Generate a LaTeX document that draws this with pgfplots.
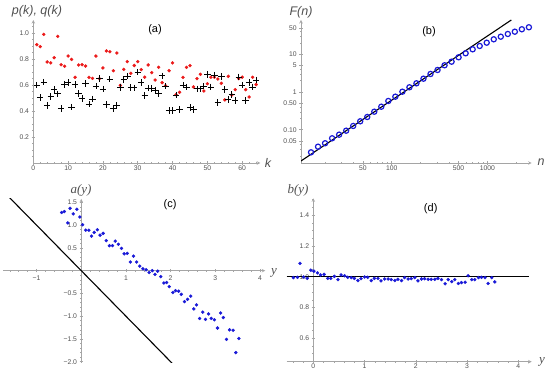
\documentclass[border=0pt]{standalone}
\usepackage{pgfplots}
\pgfplotsset{compat=1.18}
\usepackage{fontspec}
\setmainfont{Liberation Sans}
\newfontfamily\seriffont{Liberation Serif}
\definecolor{axgray}{RGB}{165,165,165}
\definecolor{lblgray}{RGB}{80,80,80}
\definecolor{mred}{RGB}{235,25,25}
\definecolor{mblue}{RGB}{25,25,215}
\pgfplotsset{mma/.style={scale only axis,
  axis line style={draw=axgray,line width=0.6pt,-},
  tick style={draw=axgray,line width=0.5pt},
  major tick length=3.5pt, minor tick length=2pt, tick align=inside,
  tick label style={font=\fontsize{6.8}{8}\selectfont, text=lblgray},
  yticklabel style={xshift=1pt},
  clip=true}}
\newcommand{\alab}{\fontsize{12.5}{14}\selectfont\itshape\color{lblgray}}
\newcommand{\slab}{\fontsize{13}{15}\selectfont\seriffont\itshape\color{lblgray}}
\newcommand{\plab}{\fontsize{11}{13}\selectfont}
\begin{document}
\begin{tikzpicture}[x=1pt,y=1pt]
\useasboundingbox (0,0) rectangle (550,371);
% ---------- (a)
\begin{axis}[mma, at={(33.3pt,208pt)}, anchor=south west,
  width=227pt, height=143pt, axis lines=left,
  xticklabel style={yshift=2.5pt},
  xmin=0, xmax=65.2, ymin=0, ymax=1.1,
  xtick={0,10,20,30,40,50,60}, xticklabels={0,10,20,30,40,50,60},
  minor xtick={2,4,...,64},
  ytick={0.2,0.4,0.6,0.8,1.0}, yticklabels={0.2,0.4,0.6,0.8,1.0},
  minor ytick={0.05,0.1,...,1.06}]
\addplot[only marks, mark=*, mark size=1.5pt, mred] coordinates {
(1,0.91)(2,0.895)(3,0.99)(4,0.777)(5,0.77)(6,0.81)(7,0.974)(8,0.756)(9,0.744)(10,0.823)
(11,0.797)(12,0.659)(13,0.754)(14,0.756)(15,0.746)(16,0.659)(17,0.651)(18,0.823)(19,0.649)(20,0.731)
(21,0.862)(22,0.856)(23,0.71)(24,0.846)(25,0.597)(26,0.72)(27,0.78)(28,0.69)(29,0.75)(30,0.78)
(31,0.718)(32,0.66)(33,0.754)(34,0.695)(35,0.638)(36,0.736)(37,0.618)(38,0.595)(39,0.71)(40,0.77)
(41,0.526)(42,0.544)(43,0.659)(44,0.736)(45,0.749)(46,0.585)(47,0.649)(48,0.682)(49,0.554)(50,0.61)
(51,0.66)(52,0.66)(53,0.646)(54,0.613)(55,0.485)(56,0.667)(57,0.523)(58,0.564)(59,0.649)(60,0.66)
(61,0.564)(62,0.508)(63,0.659)(64,0.603)};
\addplot[only marks, mark=+, mark size=3.2pt, black, line width=0.8pt] coordinates {
(1,0.60)(2,0.505)(3,0.623)(4,0.441)(5,0.513)(6,0.564)(7,0.533)(8,0.42)(9,0.605)(10,0.62)
(11,0.43)(12,0.605)(13,0.536)(14,0.497)(15,0.61)(16,0.454)(17,0.492)(18,0.59)(19,0.649)(20,0.569)
(21,0.449)(22,0.646)(23,0.418)(24,0.441)(25,0.582)(26,0.641)(27,0.669)(28,0.582)(29,0.579)(30,0.70)
(31,0.62)(32,0.52)(33,0.577)(34,0.574)(35,0.56)(36,0.536)(37,0.67)(38,0.59)(39,0.405)(40,0.405)
(41,0.523)(42,0.41)(43,0.60)(44,0.585)(45,0.428)(46,0.41)(47,0.57)(48,0.57)(49,0.59)(50,0.68)
(51,0.585)(52,0.677)(53,0.464)(54,0.664)(55,0.564)(56,0.487)(57,0.528)(58,0.48)(59,0.662)(60,0.60)
(61,0.48)(62,0.62)(63,0.585)(64,0.638)};
\end{axis}
% ---------- (b)
\begin{axis}[mma, at={(301pt,208pt)}, anchor=south west,
  width=230.7pt, height=143pt, axis lines=left, xmode=log, ymode=log,
  xticklabel style={yshift=2.5pt},
  xmin=11.25, xmax=2910, ymin=0.01312, ymax=81.5,
  xtick={50,100,500,1000}, xticklabels={50,100,500,1000},
  minor xtick={20,30,40,60,70,80,90,200,300,400,600,700,800,900,2000},
  ytick={0.05,0.1,0.5,1,5,10,50}, yticklabels={0.05,0.10,0.50,1,5,10,50},
  minor ytick={0.02,0.03,0.04,0.2,0.3,0.4,2,3,4,20,30,40}]
\addplot[black, line width=1.1pt] coordinates {(11.25,0.01486)(1782,81.5)};
\addplot[only marks, mark=o, mark size=2.6pt, mblue, line width=1.2pt] coordinates {
(14.32,0.0252)(16.96,0.0355)(20.09,0.0438)(23.80,0.0593)(28.18,0.0740)(33.39,0.0944)
(39.54,0.1259)(46.84,0.1675)(55.46,0.2178)(65.69,0.3013)(77.80,0.4083)(92.16,0.5794)
(109.1,0.7534)(129.3,1.021)(153.1,1.337)(181.4,1.706)(214.8,2.259)(254.4,3.013)
(301.3,3.846)(356.9,5.129)(422.7,6.383)(500.6,8.356)(592.9,10.67)(702.3,13.61)
(831.8,16.67)(985.1,20.37)(1167,25.06)(1382,29.38)(1637,34.67)(1939,39.90)
(2296,46.24)(2720,52.24)};
\end{axis}
% ---------- (c)
\begin{axis}[mma, at={(3.1pt,8.4pt)}, anchor=south west,
  width=262.2pt, height=163.8pt, axis lines=middle,
  xmin=-1.75, xmax=4.12, ymin=-2.02, ymax=1.58,
  xtick={-1,1,2,3,4}, xticklabels={−1,1,2,3,4},
  minor xtick={-1.6,-1.4,...,4.05},
  ytick={-2,-1.5,-1,-0.5,0.5,1,1.5}, yticklabels={−2.0,−1.5,−1.0,−0.5,0.5,1.0,1.5},
  minor ytick={-2,-1.9,...,1.55}]
\addplot[black, line width=1.1pt] coordinates {(-1.8,1.8)(2.1,-2.1)};
\addplot[only marks, mark=*, mark size=1.5pt, mblue] coordinates {
(-0.44,1.28)(-0.38,1.30)(-0.30,1.05)(-0.25,1.37)(-0.18,1.25)(-0.10,1.35)(-0.03,1.18)
(0.03,1.01)(0.10,0.89)(0.17,0.89)(0.23,0.76)(0.29,0.84)(0.36,0.90)(0.42,0.78)(0.49,0.82)
(0.56,0.66)(0.63,0.55)(0.70,0.55)(0.76,0.65)(0.83,0.58)(0.90,0.49)(0.96,0.37)(1.03,0.38)
(1.10,0.19)(1.17,0.32)(1.24,0.19)(1.31,0.10)(1.38,0.04)(1.45,0.02)(1.52,-0.04)(1.59,0.00)
(1.65,-0.08)(1.71,-0.01)(1.78,-0.13)(1.85,-0.27)(1.91,-0.26)(1.97,-0.35)(2.05,-0.48)
(2.11,-0.44)(2.18,-0.45)(2.24,-0.52)(2.31,-0.68)(2.38,-0.63)(2.45,-0.56)(2.52,-0.84)
(2.58,-0.75)(2.65,-1.05)(2.72,-0.91)(2.78,-1.07)(2.85,-0.95)(2.91,-1.05)(2.98,-1.08)
(3.05,-1.26)(3.12,-0.93)(3.18,-1.03)(3.25,-1.51)(3.32,-1.30)(3.40,-1.31)(3.46,-1.80)(3.53,-1.49)};
\end{axis}
% ---------- (d)
\begin{axis}[mma, at={(286.7pt,9.3pt)}, anchor=south west,
  width=245pt, height=163.4pt, axis x line=bottom, axis y line=middle,
  xticklabel style={yshift=2.8pt},
  xmin=-0.52, xmax=4.26, ymin=0.448, ymax=1.509,
  xtick={0,1,2,3,4}, xticklabels={0,1,2,3,4},
  minor xtick={-0.4,-0.2,...,4.25},
  ytick={0.6,0.8,1.0,1.2,1.4}, yticklabels={0.6,0.8,1.0,1.2,1.4},
  minor ytick={0.45,0.5,...,1.5}]
\addplot[black, line width=1.1pt] coordinates {(-0.52,1)(4.2,1)};
\addplot[only marks, mark=*, mark size=1.5pt, mblue] coordinates {
(-0.39,0.994)(-0.31,0.996)(-0.26,1.086)(-0.19,0.998)(-0.12,0.989)(-0.05,1.042)(0.01,1.036)
(0.08,1.025)(0.14,1.011)(0.21,1.015)(0.28,0.989)(0.34,0.989)(0.41,1.002)(0.48,0.981)
(0.54,1.011)(0.61,1.006)(0.67,0.996)(0.74,0.994)(0.80,0.989)(0.87,0.975)(0.93,0.987)
(1.00,0.998)(1.06,0.996)(1.13,0.975)(1.19,0.989)(1.26,0.989)(1.32,0.973)(1.39,0.985)
(1.46,0.985)(1.52,0.981)(1.59,0.975)(1.65,0.983)(1.72,0.975)(1.78,0.994)(1.85,0.985)
(1.91,0.987)(1.98,0.994)(2.04,0.973)(2.11,0.985)(2.17,0.987)(2.24,0.983)(2.30,0.983)
(2.37,0.983)(2.43,0.989)(2.50,0.981)(2.57,0.954)(2.63,0.981)(2.70,0.968)(2.76,0.981)
(2.83,0.956)(2.89,0.962)(2.96,0.964)(3.02,1.006)(3.09,0.981)(3.15,0.981)(3.22,0.994)
(3.28,0.996)(3.35,0.994)(3.41,0.956)(3.48,0.994)(3.54,0.966)};
\end{axis}
% ---------- labels
\node at (37,360) {\alab p(k), q(k)};
\node at (268,208) {\alab k};
\node at (155,341) {\plab (a)};
\node at (301,359) {\alab F(n)};
\node at (541,209) {\alab n};
\node at (429,339) {\plab (b)};
\node at (81,181) {\slab a(y)};
\node at (274,98) {\slab y};
\node at (170,166) {\plab (c)};
\node at (298,181) {\slab b(y)};
\node at (542,9) {\slab y};
\node at (430.7,162.7) {\plab (d)};
\end{tikzpicture}
\end{document}
